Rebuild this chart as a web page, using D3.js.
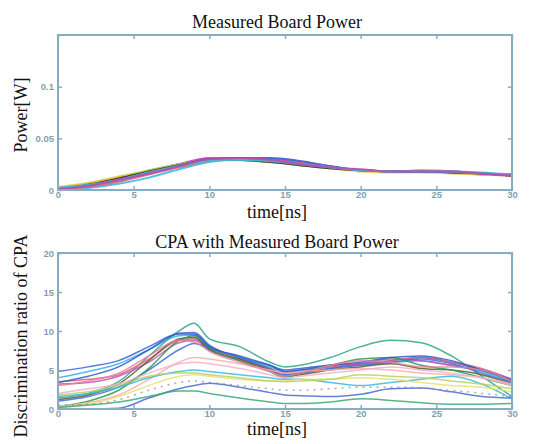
<!DOCTYPE html>
<html><head><meta charset="utf-8">
<script src="https://cdn.jsdelivr.net/npm/d3@7"></script>
<style>body{margin:0;background:#fff}svg{display:block}</style>
</head><body>
<script>
// ---------- DATA ----------
const timesTop = [0,2,4,6,8,10,12,14,16,18,20,22,24,26,28,30];
const topColors = ["#2f4fd8","#1f8f3f","#e0303a","#2fb8d8","#c030c0","#d8d040","#303030","#3c6cd0","#2a9c88","#e86070","#40c0e0","#b848b8"];
const topSeries = [
 [0.001,0.005,0.011,0.018,0.024,0.029,0.031,0.031,0.028,0.023,0.019,0.018,0.018,0.017,0.016,0.014],
 [0.002,0.006,0.012,0.019,0.025,0.029,0.029,0.027,0.024,0.021,0.019,0.018,0.018,0.017,0.016,0.015],
 [0.002,0.006,0.012,0.018,0.024,0.030,0.030,0.028,0.025,0.022,0.019,0.018,0.018,0.017,0.015,0.014],
 [0.000,0.002,0.006,0.012,0.020,0.027,0.030,0.029,0.026,0.022,0.019,0.018,0.018,0.017,0.016,0.015],
 [0.001,0.005,0.011,0.018,0.025,0.031,0.031,0.028,0.025,0.022,0.019,0.018,0.018,0.018,0.016,0.015],
 [0.003,0.007,0.013,0.019,0.025,0.029,0.029,0.027,0.024,0.021,0.018,0.017,0.017,0.016,0.015,0.014],
 [0.001,0.005,0.011,0.018,0.024,0.029,0.029,0.027,0.024,0.021,0.019,0.018,0.018,0.017,0.016,0.014],
 [0.001,0.004,0.009,0.016,0.023,0.029,0.030,0.030,0.027,0.023,0.019,0.018,0.018,0.017,0.016,0.014],
 [0.001,0.004,0.010,0.017,0.024,0.029,0.030,0.028,0.025,0.022,0.019,0.018,0.018,0.018,0.016,0.015],
 [0.001,0.003,0.008,0.015,0.022,0.028,0.030,0.029,0.026,0.022,0.019,0.018,0.019,0.018,0.016,0.014],
 [0.002,0.005,0.010,0.017,0.023,0.028,0.029,0.028,0.025,0.022,0.019,0.018,0.018,0.018,0.017,0.015],
 [0.001,0.004,0.010,0.016,0.023,0.030,0.031,0.029,0.025,0.022,0.020,0.018,0.018,0.018,0.016,0.014]
];
const timesBot = [0,2,4,6,8,9,10,12,14,15,16,18,20,22,24,26,28,30];
const botColors = ["#3a62d8","#2fa58a","#30b4e0","#e0607a","#c050c0","#5a5a2a","#4070d8","#2a9a50","#f4b0a8","#f0b0c8","#38b8e8","#e8e070","#b8d060","#4a6ad0","#38a878","#8a8a8a","#2f58c8","#e88098"];
const botSeries = [
 [4.8,5.4,6.2,8.0,9.7,9.8,8.2,6.6,5.6,5.0,5.2,5.6,5.8,6.2,6.6,6.0,5.0,3.6],
 [1.4,2.0,3.5,6.8,10.0,11.0,9.0,8.0,6.0,5.4,5.6,6.6,8.0,8.8,8.5,6.8,4.2,1.6],
 [4.0,4.8,5.8,7.6,9.4,9.5,8.0,6.6,5.4,4.8,5.0,5.4,5.6,6.0,6.2,5.6,4.8,3.4],
 [3.5,3.8,4.4,6.4,8.8,9.0,7.8,6.4,5.2,4.6,4.8,5.4,5.8,6.2,6.6,6.0,5.2,3.8],
 [3.2,3.4,4.2,6.0,8.5,8.8,7.6,6.2,5.0,4.4,4.6,5.2,5.8,6.4,6.2,5.6,5.0,3.6],
 [1.2,1.8,3.2,6.2,9.0,9.2,7.6,6.4,5.0,4.2,4.4,5.0,5.4,5.8,5.2,5.0,4.4,3.2],
 [1.0,1.6,2.8,5.0,7.6,8.4,7.8,6.6,5.2,4.4,4.6,5.2,5.6,6.0,6.4,5.8,4.6,3.4],
 [0.3,1.0,2.4,5.2,8.8,9.4,7.8,6.2,4.8,4.0,4.6,5.6,6.4,6.6,5.6,5.0,4.0,3.0],
 [0.4,0.8,1.8,3.8,6.0,6.6,6.4,5.8,5.0,4.6,4.8,5.0,5.2,5.0,4.6,4.4,4.0,3.2],
 [2.0,2.6,3.2,4.6,5.8,6.0,5.8,5.2,4.4,4.0,4.2,4.6,5.0,5.4,5.0,4.6,4.0,3.0],
 [1.6,2.0,2.8,4.0,4.8,5.0,4.8,4.4,4.0,3.8,3.8,3.4,3.0,3.4,3.8,4.2,3.2,1.3],
 [0.2,0.6,1.6,3.0,4.2,4.4,4.2,3.8,3.6,3.6,3.8,3.8,4.0,3.8,3.4,3.0,2.8,2.2],
 [1.8,2.2,3.0,4.2,4.6,4.6,4.4,4.0,3.6,3.5,3.6,3.8,4.4,4.2,4.0,3.6,3.2,2.6],
 [0.0,0.0,0.1,1.4,2.6,3.0,3.3,2.8,2.1,1.8,1.7,1.6,1.9,2.6,2.7,2.2,1.6,1.4],
 [0.2,0.5,0.9,1.6,2.3,2.3,2.0,1.4,0.9,0.7,0.7,0.9,1.3,1.1,0.8,0.6,0.6,0.7],
 [0.5,0.6,1.2,2.4,3.4,3.6,3.4,3.0,2.6,2.4,2.4,2.6,2.8,2.8,2.7,2.4,2.0,1.6],
 [3.4,4.2,5.4,7.6,9.6,9.6,8.0,6.8,5.6,4.8,5.0,5.6,6.0,6.6,6.8,6.2,5.0,3.8],
 [3.0,3.6,4.6,6.8,8.8,8.6,7.4,6.0,4.8,4.2,4.6,5.6,6.2,6.0,5.4,5.4,5.0,3.6]
];
const dashedIndex = 15;
const xTicks = [0,5,10,15,20,25,30];
const yTicksTop = [0,0.05,0.1];
const yTicksBot = [0,5,10,15,20];
const titles = ["Measured Board Power","CPA with Measured Board Power"];
const xLabel = "time[ns]";
const yLabels = ["Power[W]","Discrimination ratio of CPA"];

// ---------- DRAW ----------
const W = 536, H = 444;
const svg = d3.select("body").append("svg").attr("width", W).attr("height", H);
const axisCol = "#86aec2", tickTxt = "#7f9fb0";
const L = 58, R = 512;
const serif = "Liberation Serif, Times New Roman, serif";

function panel(top, bottom, yDomain, yTicks, yFmt, times, series, colors, title, lw, titleY, xlabY, dashIdx) {
  const x = d3.scaleLinear().domain([0,30]).range([L,R]);
  const y = d3.scaleLinear().domain(yDomain).range([bottom, top]);
  const g = svg.append("g");
  const line = d3.line().x((d,i)=>x(times[i])).y(d=>y(d)).curve(d3.curveMonotoneX);
  series.forEach((s,i)=>{
    g.append("path").attr("d", line(s)).attr("fill","none")
      .attr("stroke", colors[i % colors.length]).attr("stroke-width", lw)
      .attr("stroke-opacity", i===dashIdx ? 0.7 : 0.85)
      .attr("stroke-dasharray", i===dashIdx ? "2,5" : null);
  });
  g.append("rect").attr("x",L).attr("y",top).attr("width",R-L).attr("height",bottom-top)
    .attr("fill","none").attr("stroke",axisCol).attr("stroke-width",2);
  const xb = d3.axisBottom(x).tickValues(xTicks).tickSize(-4).tickPadding(1).tickFormat(d3.format("d"));
  const gx = g.append("g").attr("transform",`translate(0,${bottom})`).call(xb);
  const xt = d3.axisTop(x).tickValues(xTicks).tickSize(-4).tickFormat("");
  const gxt = g.append("g").attr("transform",`translate(0,${top})`).call(xt);
  const yl = d3.axisLeft(y).tickValues(yTicks).tickSize(-4).tickPadding(4).tickFormat(yFmt);
  const gy = g.append("g").attr("transform",`translate(${L},0)`).call(yl);
  const yr = d3.axisRight(y).tickValues(yTicks).tickSize(-4).tickFormat("");
  const gyr = g.append("g").attr("transform",`translate(${R},0)`).call(yr);
  [gx,gxt,gy,gyr].forEach(a=>{
    a.select(".domain").remove();
    a.selectAll(".tick line").attr("stroke",axisCol).attr("stroke-width",1.5);
    a.selectAll(".tick text").attr("fill",tickTxt).attr("font-family","Liberation Sans, Arial, sans-serif")
      .attr("font-size",9.5).attr("font-weight","bold");
  });
  svg.append("text").attr("x",(L+R)/2-8).attr("y",titleY).attr("text-anchor","middle")
    .attr("font-family",serif).attr("font-size",18).attr("fill","#111").text(title);
  svg.append("text").attr("x",(L+R)/2-8).attr("y",xlabY).attr("text-anchor","middle")
    .attr("font-family",serif).attr("font-size",18).attr("fill","#111").text(xLabel);
}

panel(35,190,[0,0.15],yTicksTop,d=> d===0 ? "0" : String(d), timesTop, topSeries, topColors, titles[0], 2, 28, 218, -1);
panel(253,409,[0,20],yTicksBot,d3.format("d"), timesBot, botSeries, botColors, titles[1], 1.5, 248, 435, dashedIndex);

svg.append("text").attr("transform","translate(27,115) rotate(-90)").attr("text-anchor","middle")
  .attr("font-family",serif).attr("font-size",18).attr("fill","#111").text(yLabels[0]);
svg.append("text").attr("transform","translate(27,336) rotate(-90)").attr("text-anchor","middle")
  .attr("font-family",serif).attr("font-size",18).attr("fill","#111").text(yLabels[1]);
</script>
</body></html>
